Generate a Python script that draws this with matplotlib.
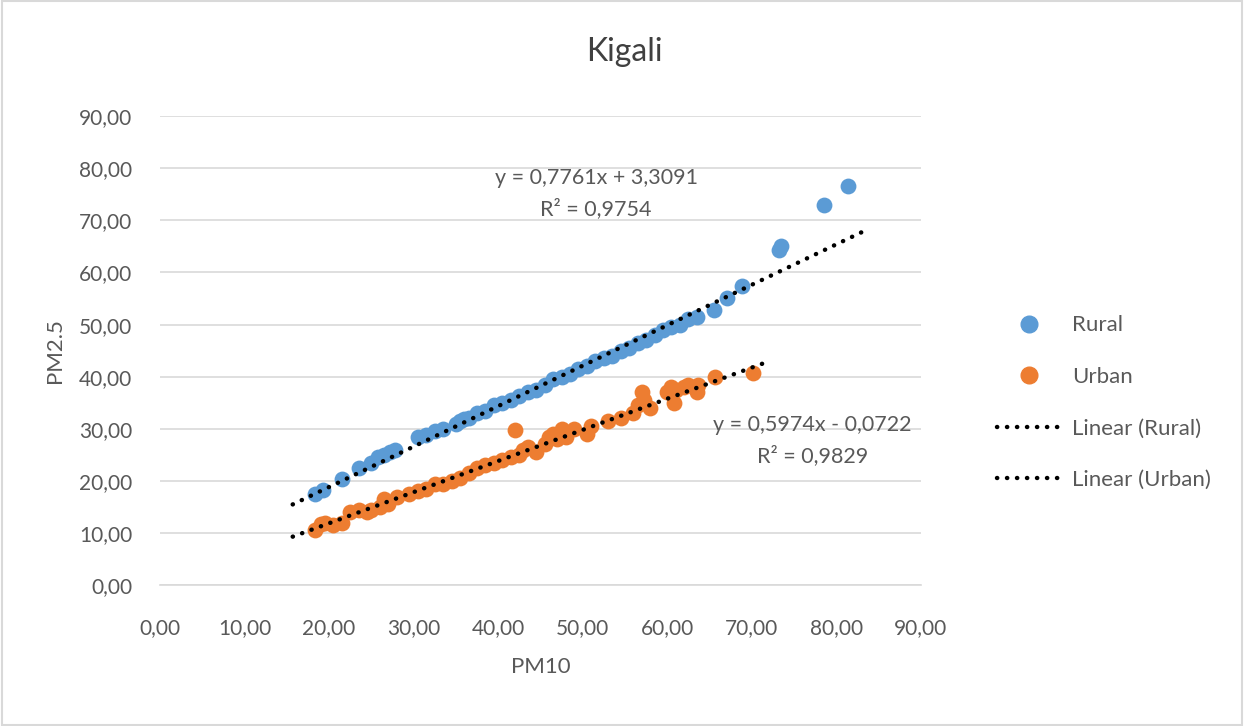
import matplotlib
matplotlib.use("Agg")
import matplotlib.pyplot as plt
from matplotlib.lines import Line2D
from matplotlib.ticker import FuncFormatter, MultipleLocator
import numpy as np

plt.rcParams["font.family"] = ["Lato", "DejaVu Sans"]

BLUE = "#5B9BD5"
ORANGE = "#ED7D31"
GREY = "#595959"

# Rural (PM10, PM2.5)
rural_pm10 = [18.3, 19.3, 21.5, 23.5, 25.0, 25.8, 26.5, 27.2, 27.8,
              30.5, 31.5, 32.5, 33.5, 35.0, 35.5, 36.0, 36.5, 37.5, 38.5,
              39.5, 40.5, 41.5, 42.5, 43.5, 44.5, 45.5, 46.5, 47.5, 48.5,
              49.5, 50.5, 51.5, 52.5, 53.5, 54.5, 55.5, 56.5, 57.5, 58.5,
              59.5, 60.5, 61.5, 62.5, 63.5, 65.5, 67.1, 68.9, 73.2, 73.5,
              78.6, 81.4]
rural_pm25 = [17.5, 18.3, 20.3, 22.5, 23.5, 24.5, 25.0, 25.5, 26.0,
              28.5, 28.8, 29.5, 30.0, 31.0, 31.5, 31.8, 32.0, 33.0, 33.5,
              34.5, 35.0, 35.5, 36.3, 37.0, 37.5, 38.5, 39.5, 40.0, 40.5,
              41.5, 42.0, 43.0, 43.5, 44.0, 45.0, 45.5, 46.5, 47.0, 48.0,
              49.0, 49.5, 50.0, 51.0, 51.5, 52.8, 55.2, 57.5, 64.3, 65.0,
              73.0, 76.6]

# Urban (PM10, PM2.5)
urban_pm10 = [18.3, 19.0, 19.5, 20.5, 21.5, 22.5, 23.5, 24.5, 25.0, 26.0,
              26.5, 27.0, 28.0, 29.5, 30.5, 31.5, 32.5, 33.5, 34.5, 35.5,
              36.5, 37.5, 38.5, 39.5, 40.5, 41.5, 42.0, 42.5, 43.0, 43.5,
              44.5, 45.5, 46.0, 46.5, 47.0, 47.5, 48.0, 49.0, 50.5, 51.0,
              53.0, 54.5, 56.0, 56.5, 57.0, 57.3, 58.0, 60.0, 60.5, 60.8,
              61.0, 62.0, 62.5, 63.5, 63.7, 65.7, 70.1]
urban_pm25 = [10.5, 11.8, 12.0, 11.5, 12.0, 14.0, 14.5, 14.0, 14.5, 15.0,
              16.5, 15.5, 17.0, 17.5, 18.0, 18.5, 19.5, 19.5, 20.0, 20.5,
              21.5, 22.5, 23.0, 23.5, 24.0, 24.5, 29.7, 25.0, 26.0, 26.5,
              25.5, 27.0, 28.5, 29.0, 28.0, 30.0, 28.5, 30.0, 29.0, 30.5,
              31.5, 32.0, 33.0, 34.5, 37.0, 35.5, 34.0, 37.0, 38.0, 35.0,
              37.5, 38.0, 38.5, 37.0, 38.5, 40.0, 40.8]

# trendlines as printed on the chart
rural_fit = (0.7761, 3.3091)
urban_fit = (0.5974, -0.0722)
rural_fit_x = [15.7, 83.1]
urban_fit_x = [15.7, 71.8]

fig = plt.figure(figsize=(12.44, 7.26), dpi=100)
ax = fig.add_axes([0.1286, 0.194, 0.6116, 0.646])

ax.scatter(rural_pm10, rural_pm25, s=130, color=BLUE, zorder=3, linewidths=0)
ax.scatter(urban_pm10, urban_pm25, s=130, color=ORANGE, zorder=3, linewidths=0)

dotted = dict(color="black", linewidth=3.2, linestyle=(0, (0.05, 2.2)),
              dash_capstyle="round", zorder=4)
for (m, b), xs in [(rural_fit, rural_fit_x), (urban_fit, urban_fit_x)]:
    xs = np.array(xs)
    ax.plot(xs, m * xs + b, **dotted)

ax.set_xlim(0, 90)
ax.set_ylim(0, 90)
ax.xaxis.set_major_locator(MultipleLocator(10))
ax.yaxis.set_major_locator(MultipleLocator(10))
fmt = FuncFormatter(lambda v, p: f"{v:.2f}".replace(".", ","))
ax.xaxis.set_major_formatter(fmt)
ax.yaxis.set_major_formatter(fmt)
ax.tick_params(length=0, labelsize=15, labelcolor=GREY)
ax.tick_params(axis="y", pad=20)
ax.tick_params(axis="x", pad=24)
ax.grid(axis="y", color="#D9D9D9", linewidth=1.2)
ax.set_axisbelow(True)
for s in ["top", "right", "left"]:
    ax.spines[s].set_visible(False)
ax.spines["bottom"].set_color("#D9D9D9")
ax.spines["bottom"].set_linewidth(1.2)

ax.set_xlabel("PM10", fontsize=16, color=GREY, labelpad=13)
ax.set_ylabel("PM2.5", fontsize=16, color=GREY, labelpad=10)
fig.text(0.502, 0.928, "Kigali", ha="center", va="center", fontsize=23, color="#404040")

ax.text(51.6, 75.1, "y = 0,7761x + 3,3091\nR\u00b2 = 0,9754", ha="center", va="center",
        fontsize=15.5, color=GREY, linespacing=1.6)
ax.text(77.2, 27.8, "y = 0,5974x - 0,0722\nR\u00b2 = 0,9829", ha="center", va="center",
        fontsize=15.5, color=GREY, linespacing=1.6)

handles = [
    Line2D([], [], marker="o", linestyle="none", markersize=12, color=BLUE),
    Line2D([], [], marker="o", linestyle="none", markersize=12, color=ORANGE),
    Line2D([], [], **dotted),
    Line2D([], [], **dotted),
]
labels = ["Rural", "Urban", "Linear (Rural)", "Linear (Urban)"]
fig.legend(handles, labels, loc="upper left", bbox_to_anchor=(0.785, 0.593),
           frameon=False, fontsize=16, labelcolor=GREY, labelspacing=1.42,
           handlelength=2.9, handletextpad=0.5)

fig.add_artist(plt.Rectangle((0.002, 0.002), 0.996, 0.996, transform=fig.transFigure,
                             fill=False, edgecolor="#D9D9D9", linewidth=1.5))

fig.savefig("out.png", dpi=100)
